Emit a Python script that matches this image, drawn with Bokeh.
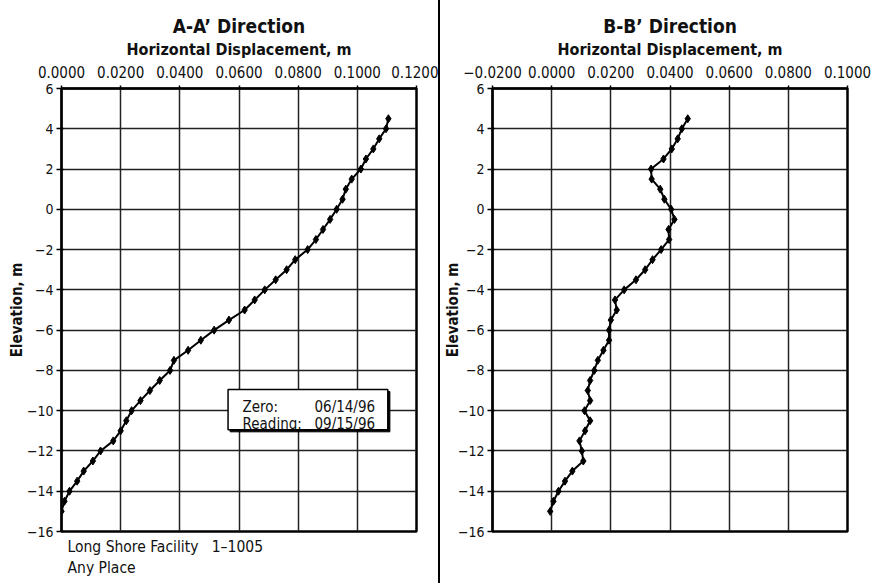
from bokeh.plotting import figure
from bokeh.models import FixedTicker, Range1d, Label, BoxAnnotation, Div, ColumnDataSource, Title
from bokeh.layouts import row
from bokeh.embed import file_html
from bokeh.resources import INLINE

# ---------------- data ----------------
elevation = [4.5, 4.0, 3.5, 3.0, 2.5, 2.0, 1.5, 1.0, 0.5, 0.0,
             -0.5, -1.0, -1.5, -2.0, -2.5, -3.0, -3.5, -4.0, -4.5, -5.0,
             -5.5, -6.0, -6.5, -7.0, -7.5, -8.0, -8.5, -9.0, -9.5, -10.0,
             -10.5, -11.0, -11.5, -12.0, -12.5, -13.0, -13.5, -14.0, -14.5, -15.0]

aa_displacement = [0.1105, 0.1097, 0.1074, 0.1054, 0.1029, 0.1012, 0.0981, 0.0961, 0.0950, 0.0930,
                   0.0908, 0.0884, 0.0860, 0.0832, 0.0790, 0.0761, 0.0724, 0.0687, 0.0653, 0.0619,
                   0.0566, 0.0516, 0.0471, 0.0428, 0.0380, 0.0367, 0.0332, 0.0299, 0.0267, 0.0237,
                   0.0219, 0.0200, 0.0175, 0.0132, 0.0106, 0.0075, 0.0053, 0.0027, 0.0010, 0.0000]

bb_displacement = [0.0460, 0.0440, 0.0426, 0.0406, 0.0378, 0.0336, 0.0338, 0.0367, 0.0381, 0.0404,
                   0.0415, 0.0395, 0.0397, 0.0370, 0.0341, 0.0316, 0.0285, 0.0245, 0.0214, 0.0220,
                   0.0200, 0.0194, 0.0194, 0.0175, 0.0156, 0.0144, 0.0130, 0.0122, 0.0130, 0.0111,
                   0.0130, 0.0113, 0.0094, 0.0102, 0.0107, 0.0070, 0.0045, 0.0023, 0.0006, -0.0005]

y_ticks = [6, 4, 2, 0, -2, -4, -6, -8, -10, -12, -14, -16]
y_tick_labels = ["6", "4", "2", "0", "\u22122", "\u22124", "\u22126", "\u22128",
                 "\u221210", "\u221212", "\u221214", "\u221216"]

aa_x_ticks = [0.0, 0.02, 0.04, 0.06, 0.08, 0.10, 0.12]
aa_x_tick_labels = ["0.0000", "0.0200", "0.0400", "0.0600", "0.0800", "0.1000", "0.1200"]
bb_x_ticks = [-0.02, 0.0, 0.02, 0.04, 0.06, 0.08, 0.10]
bb_x_tick_labels = ["\u22120.0200", "0.0000", "0.0200", "0.0400", "0.0600", "0.0800", "0.1000"]

aa_title = "A-A\u2019 Direction"
bb_title = "B-B\u2019 Direction"
x_label = "Horizontal Displacement, m"
y_label = "Elevation, m"
footer_lines = ["Long Shore Facility\u00a0\u00a0\u00a01\u20131005", "Any Place"]
note_keys = ["Zero:", "Reading:"]
note_dates = ["06/14/96", "09/15/96"]

FONT = "DejaVu Sans Condensed"
INK = "#111111"
FRAME_W = 355
FRAME_H = 443
TOP = 88
BOTTOM = 52


def make_panel(title, disp, xr, xticks, xlabels, left, right, ylabel_standoff):
    p = figure(frame_width=FRAME_W, frame_height=FRAME_H,
               x_range=Range1d(*xr), y_range=Range1d(-16, 6),
               x_axis_location="above",
               output_backend="svg", toolbar_location=None,
               min_border_left=left, min_border_right=right,
               min_border_top=TOP, min_border_bottom=BOTTOM,
               background_fill_color="white", border_fill_color="white")
    p.title.text = title
    p.title.align = "center"
    p.title.text_font = FONT
    p.title.text_font_size = "19px"
    p.title.text_font_style = "bold"
    p.title.text_color = INK
    p.title.standoff = 0

    xa = p.xaxis[0]
    xa.ticker = FixedTicker(ticks=xticks)
    xa.major_label_overrides = {t: l for t, l in zip(xticks, xlabels)}
    xa.axis_label = x_label
    xa.axis_label_text_font = FONT
    xa.axis_label_text_font_size = "16px"
    xa.axis_label_text_font_style = "bold"
    xa.axis_label_text_color = INK
    xa.axis_label_standoff = 4
    xa.major_label_text_font = FONT
    xa.major_label_text_font_size = "15px"
    xa.major_label_text_color = INK
    xa.major_label_standoff = 8
    xa.major_tick_out = 3
    xa.major_tick_in = 0
    xa.minor_tick_out = 0
    xa.minor_tick_in = 0
    xa.axis_line_width = 2
    xa.axis_line_color = "black"
    xa.major_tick_line_width = 1.5

    ya = p.yaxis[0]
    ya.ticker = FixedTicker(ticks=y_ticks)
    ya.major_label_overrides = {t: l for t, l in zip(y_ticks, y_tick_labels)}
    ya.axis_label = y_label
    ya.axis_label_text_font = FONT
    ya.axis_label_text_font_size = "15px"
    ya.axis_label_text_font_style = "bold"
    ya.axis_label_text_color = INK
    ya.axis_label_standoff = ylabel_standoff
    ya.major_label_text_font = FONT
    ya.major_label_text_font_size = "14px"
    ya.major_label_text_color = INK
    ya.major_label_standoff = 3
    ya.major_tick_out = 5
    ya.major_tick_in = 2
    ya.minor_tick_out = 0
    ya.minor_tick_in = 0
    ya.axis_line_width = 2
    ya.axis_line_color = "black"
    ya.major_tick_line_width = 1.5

    for g in (p.xgrid[0], p.ygrid[0]):
        g.grid_line_color = "#222222"
        g.grid_line_width = 1.5
        g.grid_line_alpha = 1.0

    p.outline_line_color = "black"
    p.outline_line_width = 2.5
    p.outline_line_alpha = 1.0

    src = ColumnDataSource(data=dict(x=disp, y=elevation))
    p.line("x", "y", source=src, line_color="black", line_width=2)
    p.scatter("x", "y", source=src, marker="diamond", size=8,
              fill_color="black", line_color="black")
    return p


left_p = make_panel(aa_title, aa_displacement, (0.0, 0.12), aa_x_ticks, aa_x_tick_labels,
                    left=61, right=22, ylabel_standoff=-2)
right_p = make_panel(bb_title, bb_displacement, (-0.02, 0.10), bb_x_ticks, bb_x_tick_labels,
                     left=52, right=27, ylabel_standoff=-7)

# note box on the left panel
shadow = BoxAnnotation(left=0.0570, right=0.1110, top=-9.05, bottom=-11.05,
                       fill_color="black", fill_alpha=1.0, line_color="black", line_alpha=1.0)
box = BoxAnnotation(left=0.0563, right=0.1103, top=-8.95, bottom=-10.95,
                    fill_color="white", fill_alpha=1.0, line_color="black",
                    line_width=1.5, line_alpha=1.0)
left_p.add_layout(shadow)
left_p.add_layout(box)
for k, d, yy in zip(note_keys, note_dates, [-9.80, -10.66]):
    left_p.add_layout(Label(x=0.0612, y=yy, text=k, text_font=FONT, text_font_size="15px",
                            text_color=INK, text_baseline="alphabetic", text_align="left"))
    left_p.add_layout(Label(x=0.1060, y=yy, text=d, text_font=FONT, text_font_size="15px",
                            text_color=INK, text_baseline="alphabetic", text_align="right"))

# footer text below the left frame (two lines in one title)
left_p.add_layout(Title(text="\n".join(footer_lines), align="left", offset=6, standoff=8,
                        text_font=FONT, text_font_size="15.5px", text_font_style="normal",
                        text_line_height=1.2, text_color=INK), "below")

divider = Div(width=2, height=TOP + FRAME_H + BOTTOM, margin=0,
              styles={"background-color": "black"})

layout = row(left_p, divider, right_p)
open("out.html", "w").write(file_html(layout, INLINE))
